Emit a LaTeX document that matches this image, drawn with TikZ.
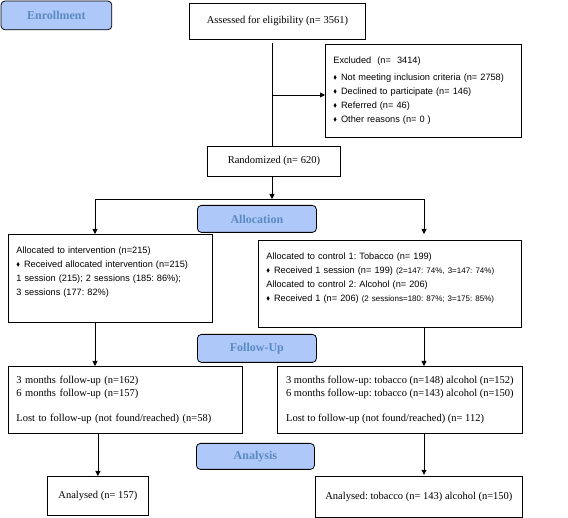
\documentclass[tikz,border=0pt]{standalone}
\usepackage{amsmath}
\usepackage{amssymb}
\usepackage{xcolor}
\usepackage{fontspec}
\setmainfont{Liberation Serif}
\setsansfont{Liberation Sans}
\usepackage{tikz}
\usetikzlibrary{arrows.meta}
\frenchspacing

\definecolor{phasefill}{HTML}{AFC8FA}
\definecolor{phasetext}{HTML}{5A8AC0}
\newcommand{\lozbullet}{\raisebox{0.25ex}{\scalebox{0.6}{$\blacklozenge$}}\hspace{4pt}}
\newcommand{\smallpar}[1]{{\fontsize{8}{8}\selectfont #1}}

\begin{document}
\begin{tikzpicture}[x=1pt, y=-1pt, line width=0.8pt, >={Triangle[length=5pt,width=5pt]},
		phase/.style={draw, rounded corners=4pt, fill=phasefill, text=phasetext, anchor=north west, font=\fontsize{12}{14}\selectfont\bfseries, inner sep=0pt},
		serifbox/.style={draw, anchor=north west, inner xsep=8pt, inner ysep=0pt, font=\fontsize{10.5}{13}\selectfont},
		sansbox/.style={draw, anchor=north west, inner xsep=8pt, inner ysep=0pt, align=left, font=\sffamily\fontsize{9.2}{14}\selectfont}]
			\useasboundingbox (0,0) rectangle (568,518);

			\node[phase, minimum width=110.8pt, minimum height=28.8pt] (enroll) at (0.6,0.6) {Enrollment};
			\node[phase, minimum width=119pt, minimum height=27pt] (allocation) at (197,205) {Allocation};
			\node[phase, minimum width=119pt, minimum height=28pt] (followup) at (197,334) {Follow-Up};
			\node[phase, minimum width=118pt, minimum height=26pt] (analysis) at (196,443) {Analysis};

			\node[serifbox, minimum width=176pt, minimum height=36pt] (assessed) at (189,3) {Assessed for eligibility (n= 3561)};
			\node[sansbox, text width=180pt, minimum height=93pt] (excluded) at (325,44) {Excluded\ \ (n=\ \ 3414)\\[3pt]
				\lozbullet Not meeting inclusion criteria (n= 2758)\\
				\lozbullet Declined to participate (n= 146)\\
				\lozbullet Referred (n= 46)\\
				\lozbullet Other reasons (n= 0 )};
			\node[serifbox, minimum width=133pt, minimum height=30pt] (randomized) at (207,146) {Randomized (n= 620)};

			\node[sansbox, text width=188pt, minimum height=88pt] (allocint) at (8,234) {Allocated to intervention (n=215)\\
				\lozbullet Received allocated intervention (n=215)\\
				1 session (215); 2 sessions (185: 86\%);\\
				3 sessions (177: 82\%)\\ ~};
			\node[sansbox, text width=247pt, minimum height=87pt] (alloccon) at (258,240) {Allocated to control 1: Tobacco (n= 199)\\
				\lozbullet Received 1 session (n= 199) \smallpar{(2=147: 74\%, 3=147: 74\%)}\\
				Allocated to control 2: Alcohol (n= 206)\\
				\lozbullet Received 1 (n= 206) \smallpar{(2 sessions=180: 87\%; 3=175: 85\%)}\\ ~};

			\node[serifbox, align=left, text width=218pt, minimum height=67pt] (fuint) at (8,366) {3 months follow-up (n=162)\\
				6 months follow-up (n=157)\\[12pt]
				Lost to follow-up (not found/reached) (n=58)};
			\node[serifbox, align=left, inner xsep=7pt, minimum width=245pt, minimum height=67pt] (fucon) at (277,366) {3 months follow-up: tobacco (n=148) alcohol (n=152)\\
				6 months follow-up: tobacco (n=143) alcohol (n=150)\\[12pt]
				Lost to follow-up (not found/reached) (n= 112)};

			\node[serifbox, minimum width=101pt, minimum height=39pt] (anaint) at (47,476) {Analysed (n= 157)};
			\node[serifbox, minimum width=207pt, minimum height=41pt] (anacon) at (315,476) {Analysed: tobacco (n= 143) alcohol (n=150)};

			\coordinate (split) at (272,95);
			\coordinate (branch) at (272,199);
			\coordinate (leftcol) at (95,199);
			\coordinate (rightcol) at (424,199);

			\draw (split |- assessed.south) ++(0,3) -- (split |- randomized.north);
			\draw[->] (split) -- (split -| excluded.west);
			\draw[->] (branch |- randomized.south) -- (branch);
			\draw (leftcol) -- (rightcol);
			\draw[->] (leftcol) -- (leftcol |- allocint.north);
			\draw[->] (rightcol) -- (rightcol |- allocint.north);
			\draw[->] (allocint.south -| leftcol) -- (fuint.north -| leftcol);
			\draw[->] (alloccon.south -| rightcol) -- (fucon.north -| rightcol);
			\draw[->] (fuint.south -| anaint.north) -- (anaint.north);
			\draw[->] (fucon.south -| rightcol) -- ++(0,41);
		\end{tikzpicture}
\end{document}
